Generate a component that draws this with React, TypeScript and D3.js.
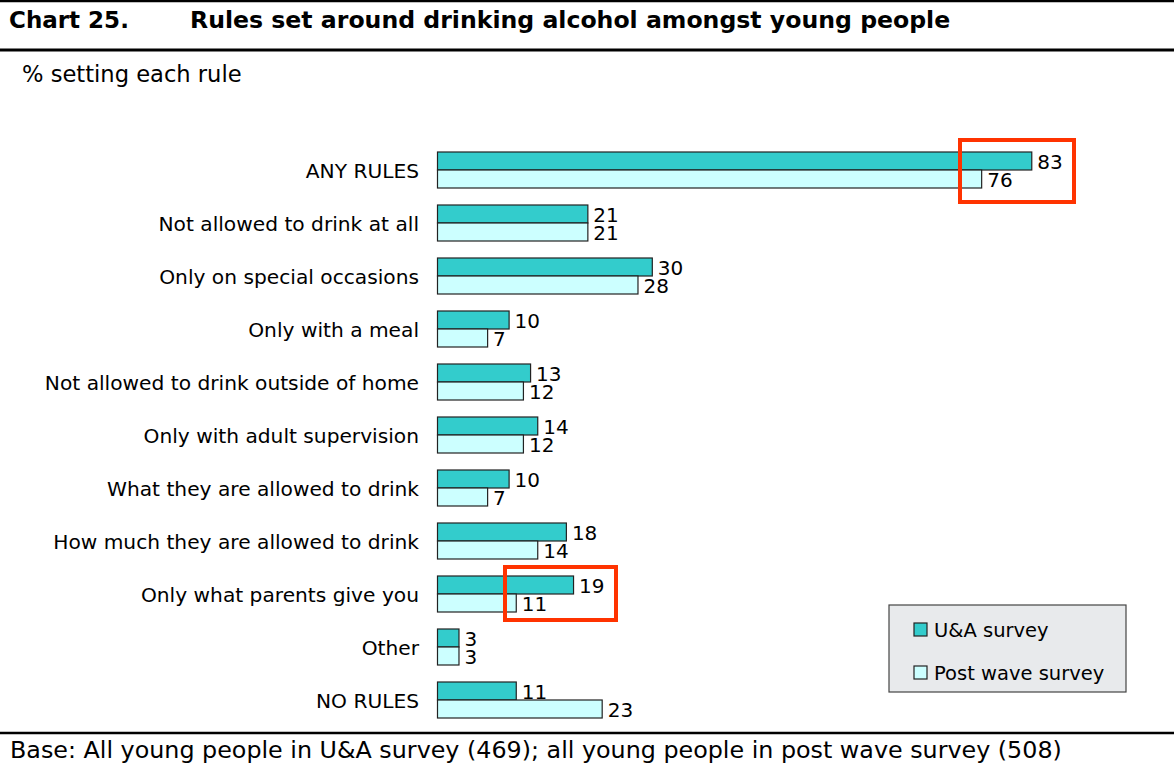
import React from "react";
import * as d3 from "d3";

const categories = [
  "ANY RULES",
  "Not allowed to drink at all",
  "Only on special occasions",
  "Only with a meal",
  "Not allowed to drink outside of home",
  "Only with adult supervision",
  "What they are allowed to drink",
  "How much they are allowed to drink",
  "Only what parents give you",
  "Other",
  "NO RULES",
];
const uaSurvey = [83, 21, 30, 10, 13, 14, 10, 18, 19, 3, 11];
const postWave = [76, 21, 28, 7, 12, 12, 7, 14, 11, 3, 23];
const seriesNames = ["U&A survey", "Post wave survey"];
const seriesColors = ["#33cccc", "#ccffff"];

const FONT = "'DejaVu Sans', Verdana, sans-serif";

export default function App() {
  const W = 1174;
  const H = 764;
  const x = d3.scaleLinear().domain([0, 100]).range([437.5, 1153.5]);
  const y = d3.scaleBand<string>().domain(categories).range([152, 718]).paddingInner(17 / 53).paddingOuter(0);
  const inner = d3.scaleBand<number>().domain([0, 1]).range([0, y.bandwidth()]);
  const series = [uaSurvey, postWave];

  return (
    <div style={{ position: "absolute", left: 0, top: 0 }}>
      <svg width={W} height={H} style={{ display: "block", background: "#fff" }} fontFamily={FONT}>
        <rect x={0} y={0} width={W} height={H} fill="#fff" />
        <line x1={0} x2={W} y1={1} y2={1} stroke="#000" strokeWidth={2.5} />
        <text x={9} y={28} fontSize={23} fontWeight="bold" fill="#000">Chart 25.</text>
        <text x={190} y={28} fontSize={23.6} fontWeight="bold" fill="#000">Rules set around drinking alcohol amongst young people</text>
        <line x1={0} x2={W} y1={50} y2={50} stroke="#000" strokeWidth={3} />
        <text x={22} y={82} fontSize={22.6} fill="#000">% setting each rule</text>

        {categories.map((c, i) => (
          <g key={c}>
            <text x={419} y={(y(c) as number) + y.bandwidth() / 2 + 8} textAnchor="end" fontSize={20.2} fill="#000">{c}</text>
            {series.map((s, k) => {
              const top = (y(c) as number) + (inner(k) as number);
              return (
                <g key={k}>
                  <rect x={x(0)} y={top} width={x(s[i]) - x(0)} height={inner.bandwidth()} fill={seriesColors[k]} stroke="#222" strokeWidth={1.2} />
                  <text x={x(s[i]) + 5.5} y={top + inner.bandwidth() - 1} fontSize={20} fill="#000">{s[i]}</text>
                </g>
              );
            })}
          </g>
        ))}

        <rect x={960} y={140} width={114} height={62} fill="none" stroke="#ff3300" strokeWidth={4} />
        <rect x={505} y={567} width={111} height={53} fill="none" stroke="#ff3300" strokeWidth={4} />

        <rect x={889} y={605} width={237} height={87} fill="#e8eaec" stroke="#444" strokeWidth={1.2} />
        {seriesNames.map((n, k) => (
          <g key={n}>
            <rect x={914} y={623 + k * 43} width={13} height={13} fill={seriesColors[k]} stroke="#222" strokeWidth={1.2} />
            <text x={934} y={637 + k * 43} fontSize={19.5} fill="#000">{n}</text>
          </g>
        ))}

        <line x1={0} x2={W} y1={733} y2={733} stroke="#000" strokeWidth={2.5} />
        <text x={10} y={758} fontSize={23.8} fill="#000">Base: All young people in U&amp;A survey (469); all young people in post wave survey (508)</text>
      </svg>
    </div>
  );
}
